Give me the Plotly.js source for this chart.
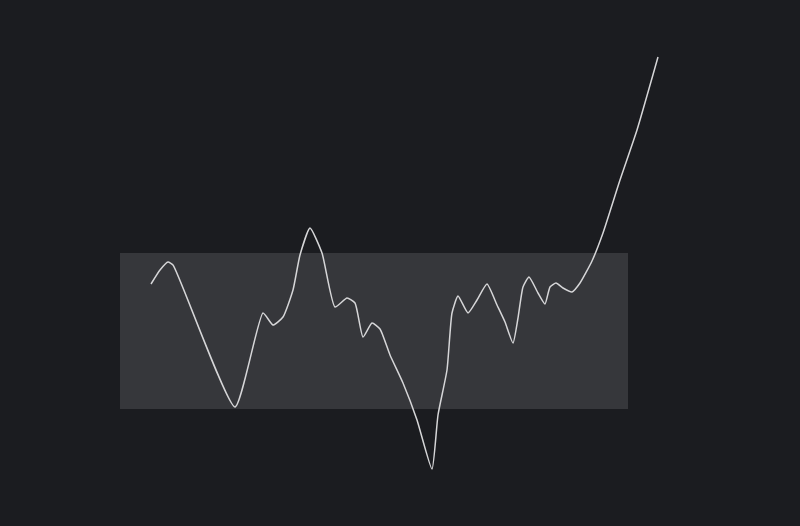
<!DOCTYPE html>
<html>
<head>
<meta charset="utf-8">
<script src="https://cdn.plot.ly/plotly-3.0.1.min.js"></script>
<style>html,body{margin:0;padding:0;background:#1b1c20;}#chart{width:800px;height:526px;}</style>
</head>
<body>
<div id="chart"></div>
<script>
const days = [0, 1.8, 3.4, 4.4, 16.8, 22.4, 24.4, 26.4, 28.4, 29.8, 31.8, 34.2, 36.8, 39.2, 40.8, 42.4, 44.2, 45.8, 47.8, 50.4, 53.2, 56.2, 57.4, 59.2, 60.2, 61.4, 63.4, 65.2, 67.2, 69.2, 70.8, 72.4, 73.4, 74.4, 75.6, 77.4, 78.8, 79.8, 81, 82.4, 84.2, 85.8, 88.2, 90.4, 93.8, 97.2, 101.4];
const values = [60.5, 64, 66, 65.25, 29.75, 53.25, 50.25, 52.25, 59, 67.75, 74.5, 68.25, 54.75, 57, 55.75, 47.25, 50.75, 49.25, 42.75, 35.75, 26.5, 14.25, 27.75, 39, 53.25, 57.5, 53.25, 56.5, 60.5, 55.25, 51, 45.75, 52, 59.75, 62.25, 58.25, 55.5, 59.75, 60.75, 59.5, 58.5, 60.75, 66.25, 73.25, 86.5, 99, 117.25];
const bandX = [-6.2, 95.4];
const bandY = [29.25, 68.25];

const trace = {
  x: days, y: values, type: 'scatter', mode: 'lines',
  line: {color: '#d6d6d8', width: 1.5, shape: 'spline', smoothing: 0.5},
  hoverinfo: 'skip'
};
const layout = {
  width: 800, height: 526,
  margin: {l: 0, r: 0, t: 0, b: 0},
  paper_bgcolor: '#1b1c20', plot_bgcolor: '#1b1c20',
  showlegend: false,
  xaxis: {range: [-30.2, 129.8], visible: false, fixedrange: true},
  yaxis: {range: [0, 131.5], visible: false, fixedrange: true},
  shapes: [{
    type: 'rect', xref: 'x', yref: 'y', layer: 'below',
    x0: bandX[0], x1: bandX[1], y0: bandY[0], y1: bandY[1],
    fillcolor: 'rgba(255,255,255,0.12)', line: {width: 0}
  }]
};
Plotly.newPlot('chart', [trace], layout, {displayModeBar: false, staticPlot: true});
</script>
</body>
</html>
